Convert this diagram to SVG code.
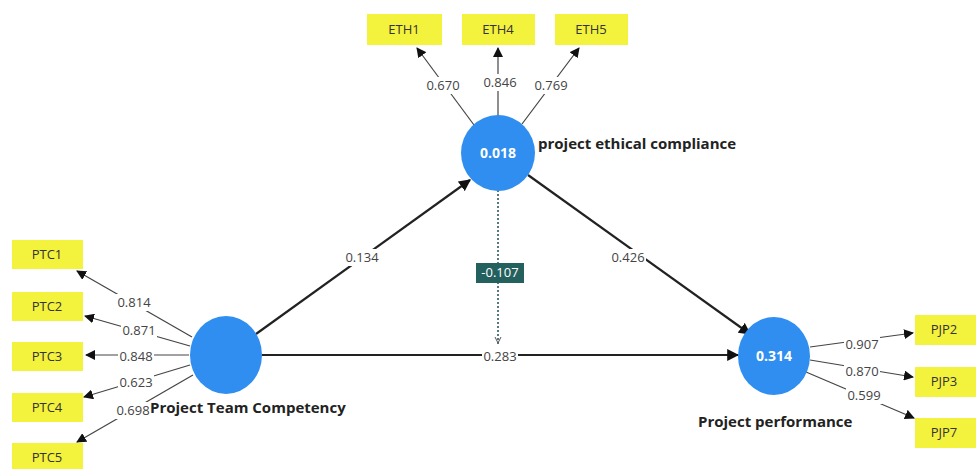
<svg xmlns="http://www.w3.org/2000/svg" width="976" height="469" viewBox="0 0 976 469">
<defs>
<marker id="ah" viewBox="0 0 10 10" refX="9" refY="5" markerWidth="10" markerHeight="10" markerUnits="userSpaceOnUse" orient="auto">
<path d="M0,0 L10,5 L0,10 z" fill="#111"/>
</marker>
<marker id="ahs" viewBox="0 0 10 10" refX="9" refY="5" markerWidth="12" markerHeight="12" markerUnits="userSpaceOnUse" orient="auto">
<path d="M0,0 L10,5 L0,10 z" fill="#111"/>
</marker>
</defs>
<style>
.ind{fill:#f3f23c;}
.it{font-family:"Open Sans","Liberation Sans",sans-serif;font-size:13px;fill:#333;text-anchor:middle;}
.lv{fill:#2f8ef0;}
.lvt{font-family:"Open Sans","Liberation Sans",sans-serif;font-size:14px;font-weight:bold;fill:#fff;text-anchor:middle;}
.nm{font-family:"Open Sans","Liberation Sans",sans-serif;font-size:15px;font-weight:bold;fill:#222;}
.ln{stroke:#444;stroke-width:1.2;fill:none;}
.sp{stroke:#222;stroke-width:2.2;fill:none;}
.lb{font-family:"Open Sans","Liberation Sans",sans-serif;font-size:13px;fill:#444;text-anchor:middle;}
.bg{fill:#fff;}
</style>
<rect width="976" height="469" fill="#fff"/>
<g id="connectors">
<line class="ln" x1="474" y1="125" x2="417" y2="48" marker-end="url(#ah)"/>
<line class="ln" x1="498" y1="116" x2="498" y2="48" marker-end="url(#ah)"/>
<line class="ln" x1="522" y1="124" x2="579" y2="48" marker-end="url(#ah)"/>
<line class="ln" x1="192" y1="337" x2="77" y2="271" marker-end="url(#ah)"/>
<line class="ln" x1="190" y1="346" x2="85" y2="316" marker-end="url(#ah)"/>
<line class="ln" x1="189" y1="355" x2="86" y2="355" marker-end="url(#ah)"/>
<line class="ln" x1="190" y1="365" x2="84" y2="397" marker-end="url(#ah)"/>
<line class="ln" x1="193" y1="375" x2="77" y2="442" marker-end="url(#ah)"/>
<line class="ln" x1="810" y1="347" x2="913" y2="333" marker-end="url(#ah)"/>
<line class="ln" x1="810" y1="360" x2="913" y2="377" marker-end="url(#ah)"/>
<line class="ln" x1="806" y1="372" x2="914" y2="418" marker-end="url(#ah)"/>
<line class="sp" x1="256" y1="334" x2="470" y2="180" marker-end="url(#ahs)"/>
<line class="sp" x1="528" y1="175" x2="750" y2="334" marker-end="url(#ahs)"/>
<line class="sp" x1="262" y1="355" x2="738" y2="355" marker-end="url(#ahs)"/>
<line x1="498" y1="190" x2="498" y2="344" stroke="#1f4f55" stroke-width="1.5" stroke-dasharray="2,2"/>
<path d="M495,337 L498,343 L501,337" fill="none" stroke="#555" stroke-width="1"/>
<g id="labels">
<rect class="bg" x="425" y="77" width="36" height="17"/><text class="lb" x="443" y="90">0.670</text>
<rect class="bg" x="482" y="74" width="36" height="17"/><text class="lb" x="500" y="87">0.846</text>
<rect class="bg" x="533" y="77" width="36" height="17"/><text class="lb" x="551" y="90">0.769</text>
<rect class="bg" x="116" y="294" width="36" height="17"/><text class="lb" x="134" y="307">0.814</text>
<rect class="bg" x="121" y="322" width="36" height="17"/><text class="lb" x="139" y="335">0.871</text>
<rect class="bg" x="118" y="348" width="36" height="17"/><text class="lb" x="136" y="361">0.848</text>
<rect class="bg" x="118" y="374" width="36" height="17"/><text class="lb" x="136" y="387">0.623</text>
<rect class="bg" x="115" y="402" width="36" height="17"/><text class="lb" x="133" y="415">0.698</text>
<rect class="bg" x="844" y="336" width="36" height="17"/><text class="lb" x="862" y="349">0.907</text>
<rect class="bg" x="844" y="363" width="36" height="17"/><text class="lb" x="862" y="376">0.870</text>
<rect class="bg" x="846" y="387" width="36" height="17"/><text class="lb" x="864" y="400">0.599</text>
<rect class="bg" x="344" y="249" width="36" height="17"/><text class="lb" x="362" y="262">0.134</text>
<rect class="bg" x="610" y="249" width="36" height="17"/><text class="lb" x="628" y="262">0.426</text>
<rect class="bg" x="482" y="348" width="36" height="17"/><text class="lb" x="500" y="361">0.283</text>
<rect x="476" y="263" width="48" height="20" fill="#24605e"/><text class="lb" x="500" y="277" style="fill:#fff">-0.107</text>
</g>
</g>
<g id="ETH1"><rect class="ind" x="367" y="14" width="75" height="31"/><text class="it" x="404" y="34">ETH1</text></g>
<g id="ETH4"><rect class="ind" x="462" y="14" width="73" height="31"/><text class="it" x="498" y="34">ETH4</text></g>
<g id="ETH5"><rect class="ind" x="555" y="14" width="73" height="31"/><text class="it" x="591" y="34">ETH5</text></g>
<g id="PTC1"><rect class="ind" x="12" y="240" width="71" height="29"/><text class="it" x="47" y="259">PTC1</text></g>
<g id="PTC2"><rect class="ind" x="12" y="292" width="71" height="29"/><text class="it" x="47" y="311">PTC2</text></g>
<g id="PTC3"><rect class="ind" x="12" y="342" width="71" height="29"/><text class="it" x="47" y="361">PTC3</text></g>
<g id="PTC4"><rect class="ind" x="12" y="393" width="71" height="29"/><text class="it" x="47" y="412">PTC4</text></g>
<g id="PTC5"><rect class="ind" x="12" y="443" width="71" height="26"/><text class="it" x="47" y="462">PTC5</text></g>
<g id="PJP2"><rect class="ind" x="915" y="315" width="61" height="30"/><text class="it" x="944" y="334">PJP2</text></g>
<g id="PJP3"><rect class="ind" x="915" y="367" width="61" height="30"/><text class="it" x="944" y="386">PJP3</text></g>
<g id="PJP7"><rect class="ind" x="915" y="418" width="61" height="30"/><text class="it" x="944" y="437">PJP7</text></g>
<g id="EthicalCompliance"><ellipse class="lv" cx="498" cy="153" rx="37" ry="38"/><text class="lvt" x="498" y="158">0.018</text><text class="nm" x="538" y="149">project ethical compliance</text></g>
<g id="TeamCompetency"><ellipse class="lv" cx="226" cy="355" rx="36" ry="39"/><text class="nm" x="150" y="413">Project Team Competency</text></g>
<g id="Performance"><ellipse class="lv" cx="774" cy="356" rx="36" ry="39"/><text class="lvt" x="774" y="361">0.314</text><text class="nm" x="698" y="427">Project performance</text></g>
</svg>
